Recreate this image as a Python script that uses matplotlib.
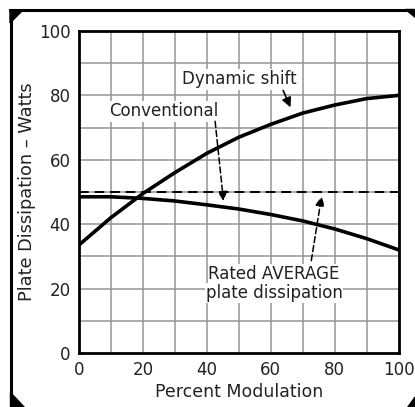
import matplotlib
matplotlib.use('Agg')
import matplotlib.pyplot as plt
from matplotlib.patches import Polygon

# data
modulation = [0, 10, 20, 30, 40, 50, 60, 70, 80, 90, 100]
dynamic_shift = [33.5, 42, 49.5, 56, 62, 67, 71, 74.5, 77, 79, 80]
conventional = [48.5, 48.5, 48, 47.2, 46, 44.7, 43, 41, 38.5, 35.5, 32]
rated_average = 50
ticks = [0, 20, 40, 60, 80, 100]

fig = plt.figure(figsize=(4.15, 4.07), dpi=100)
ax = fig.add_axes([0.190, 0.1327, 0.771, 0.7913])

# grid every 10 units
for v in range(10, 100, 10):
    ax.axvline(v, color='#959595', lw=1.1, zorder=1)
    ax.axhline(v, color='#959595', lw=1.1, zorder=1)

ax.plot(modulation, dynamic_shift, color='black', lw=2.6, zorder=3)
ax.plot(modulation, conventional, color='black', lw=2.6, zorder=3)
ax.axhline(rated_average, color='black', lw=1.4, ls=(0, (5, 3)), zorder=3)

ax.set_xlim(0, 100)
ax.set_ylim(0, 100)
ax.set_xticks(ticks)
ax.set_yticks(ticks)
ax.tick_params(length=0, labelsize=12, pad=6, labelcolor='#222222')
for s in ax.spines.values():
    s.set_linewidth(2)

ax.set_xlabel('Percent Modulation', fontsize=12.5, labelpad=3, color='#222222')
ax.set_ylabel('Plate Dissipation \u2013 Watts', fontsize=12.8, labelpad=2,
              color='#222222')

# annotations
txt = dict(ha='center', va='center', fontsize=12, color='#222222', zorder=4)
ax.text(50, 85, 'Dynamic shift',
        bbox=dict(facecolor='white', edgecolor='none', pad=1), **txt)
ax.text(26.5, 75, 'Conventional',
        bbox=dict(facecolor='white', edgecolor='none', pad=1), **txt)
ax.text(61, 24.5, 'Rated AVERAGE',
        bbox=dict(facecolor='white', edgecolor='none', pad=0.5), **txt)
ax.text(61, 18.6, 'plate dissipation',
        bbox=dict(facecolor='white', edgecolor='none', pad=0.5), **txt)

ax.annotate('', xy=(66.5, 75.5), xytext=(63.5, 82.3),
            arrowprops=dict(arrowstyle='-|>', color='black', lw=1.2,
                            mutation_scale=14), zorder=5)
ax.annotate('', xy=(45.3, 46.3), xytext=(42.5, 72.8),
            arrowprops=dict(arrowstyle='-|>', color='black', lw=1.1,
                            ls=(0, (4, 2)), mutation_scale=14), zorder=5)
ax.annotate('', xy=(76, 49.5), xytext=(72.5, 27.8),
            arrowprops=dict(arrowstyle='-|>', color='black', lw=1.1,
                            ls=(0, (4, 2)), mutation_scale=14), zorder=5)

# outer frame with corner triangles
W, H = 415, 407
def px(x, y):
    return (x / W, 1 - y / H)

fig.add_artist(plt.Line2D([10.5 / W, 10.5 / W], [1 - 10 / H, 1 - 400 / H],
                          color='black', lw=2.2, transform=fig.transFigure))
fig.add_artist(plt.Line2D([10 / W, 413 / W], [1 - 10 / H, 1 - 10 / H],
                          color='black', lw=2.2, transform=fig.transFigure))
for tri in ([(10, 10), (23, 10), (10, 23)],
            [(405, 9), (415, 9), (415, 17)],
            [(10, 392), (10, 407), (24, 407)],
            [(415, 396), (415, 407), (407, 407)]):
    fig.add_artist(Polygon([px(*p) for p in tri], closed=True, color='black',
                           transform=fig.transFigure))

fig.savefig('out.png', dpi=100)
